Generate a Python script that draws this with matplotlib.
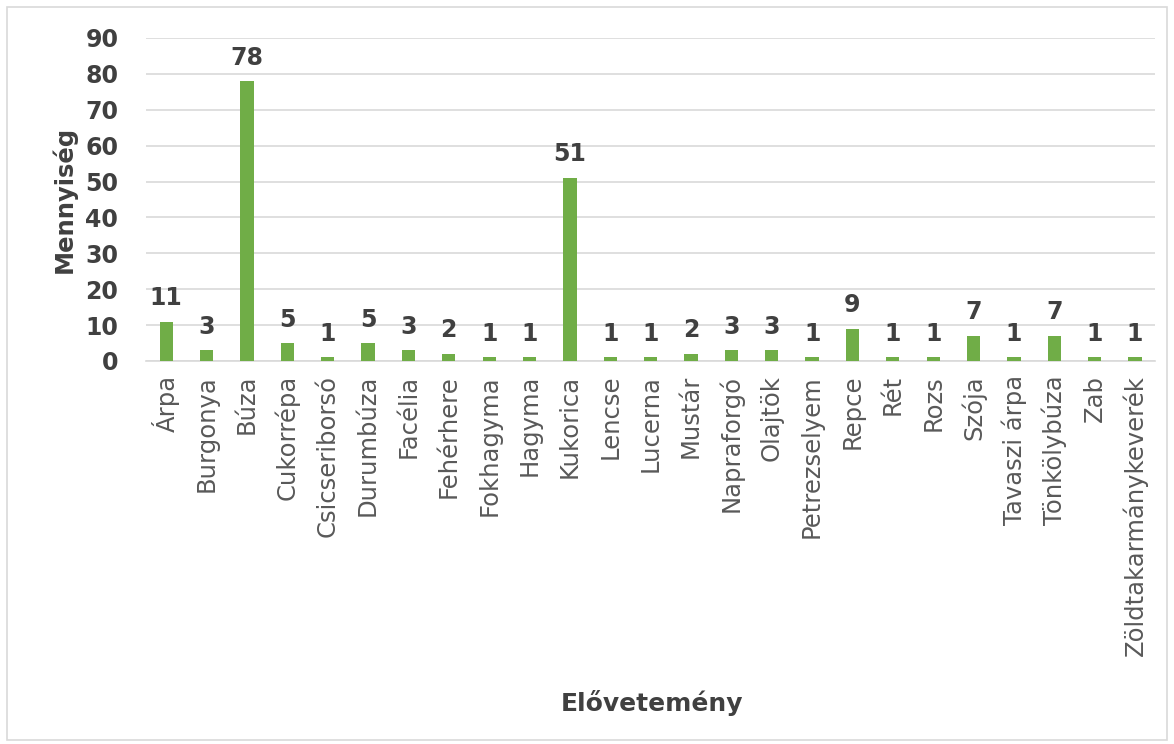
import matplotlib.pyplot as plt
from matplotlib.patches import Rectangle

categories = ["Árpa", "Burgonya", "Búza", "Cukorrépa", "Csicseriborsó", "Durumbúza",
              "Facélia", "Fehérhere", "Fokhagyma", "Hagyma", "Kukorica", "Lencse",
              "Lucerna", "Mustár", "Napraforgó", "Olajtök", "Petrezselyem", "Repce",
              "Rét", "Rozs", "Szója", "Tavaszi árpa", "Tönkölybúza", "Zab",
              "Zöldtakarmánykeverék"]
values = [11, 3, 78, 5, 1, 5, 3, 2, 1, 1, 51, 1, 1, 2, 3, 3, 1, 9, 1, 1, 7, 1, 7, 1, 1]
yticks = [0, 10, 20, 30, 40, 50, 60, 70, 80, 90]

plt.rcParams['font.family'] = ['DejaVu Sans']

fig = plt.figure(figsize=(11.74, 7.44), dpi=100)
ax = fig.add_axes([0.1244, 0.5148, 0.8596, 0.4342])

x = range(len(categories))
bars = ax.bar(x, values, width=0.33, color="#70AD47", zorder=3)

for xi, v in zip(x, values):
    ax.text(xi, v + 3.2, str(v), ha="center", va="bottom", fontsize=17,
            fontweight="bold", color="#404040", zorder=4)

ax.set_xlim(-0.5, len(categories) - 0.5)
ax.set_ylim(0, 90)
ax.set_yticks(yticks)
ax.set_yticklabels([str(t) for t in yticks], fontsize=17, fontweight="bold", color="#404040")
ax.set_xticks(list(x))
ax.set_xticklabels(categories, rotation=90, fontsize=17.5, color="#595959")
ax.tick_params(axis="y", length=0, pad=20)
ax.tick_params(axis="x", length=0, pad=10)

ax.grid(axis="y", color="#D9D9D9", linewidth=1.2, zorder=0)
for s in ["top", "right", "left"]:
    ax.spines[s].set_visible(False)
ax.spines["bottom"].set_color("#D9D9D9")
ax.spines["bottom"].set_linewidth(1.2)

ax.set_ylabel("Mennyiség", fontsize=17.5, fontweight="bold", color="#404040", labelpad=6)
fig.text(0.555, 0.055, "Elővetemény", ha="center", va="center", fontsize=18,
         fontweight="bold", color="#404040")

fig.patches.append(Rectangle((0.006, 0.006), 0.988, 0.984, transform=fig.transFigure,
                             fill=False, edgecolor="#D9D9D9", linewidth=1.2))

fig.savefig("out.png", dpi=100)
